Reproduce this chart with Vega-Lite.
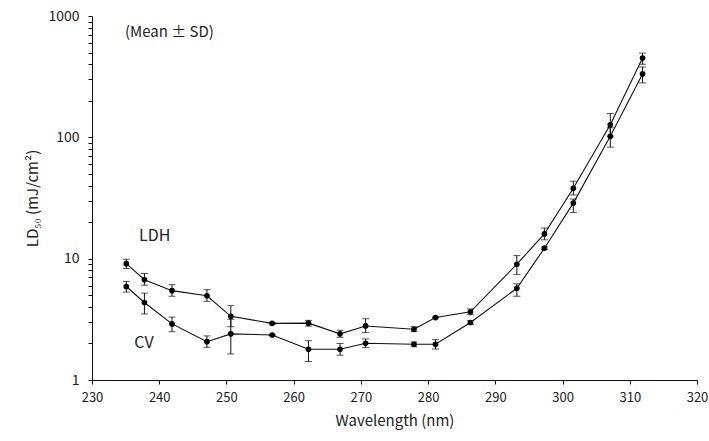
{
  "$schema": "https://vega.github.io/schema/vega-lite/v6.json",
  "autosize": {"type": "none"},
  "width": 605,
  "height": 364,
  "padding": {"left": 92, "top": 16, "right": 12, "bottom": 61},
  "background": "white",
  "config": {
    "view": {"stroke": null},
    "font": "Noto Sans CJK JP",
    "axis": {"domainColor": "#111", "tickColor": "#111", "labelColor": "#222", "titleColor": "#222", "grid": false, "labelFlush": false, "labelFont": "Noto Sans CJK JP", "titleFont": "Noto Sans CJK JP", "titleFontWeight": "normal"}
  },
  "datasets": {
    "pts": [
      {"series": "LDH", "wl": 235.1, "mean": 9.1, "lo": 8.3, "hi": 9.9},
      {"series": "LDH", "wl": 237.8, "mean": 6.7, "lo": 6.05, "hi": 7.55},
      {"series": "LDH", "wl": 241.9, "mean": 5.45, "lo": 4.9, "hi": 6.1},
      {"series": "LDH", "wl": 247.1, "mean": 4.95, "lo": 4.45, "hi": 5.55},
      {"series": "LDH", "wl": 250.65, "mean": 3.35, "lo": 2.75, "hi": 4.1},
      {"series": "LDH", "wl": 256.8, "mean": 2.93, "lo": 2.88, "hi": 2.98},
      {"series": "LDH", "wl": 262.2, "mean": 2.94, "lo": 2.78, "hi": 3.1},
      {"series": "LDH", "wl": 266.9, "mean": 2.4, "lo": 2.25, "hi": 2.57},
      {"series": "LDH", "wl": 270.7, "mean": 2.79, "lo": 2.46, "hi": 3.2},
      {"series": "LDH", "wl": 277.9, "mean": 2.62, "lo": 2.5, "hi": 2.75},
      {"series": "LDH", "wl": 281.1, "mean": 3.27, "lo": 3.25, "hi": 3.29},
      {"series": "LDH", "wl": 286.3, "mean": 3.65, "lo": 3.45, "hi": 3.85},
      {"series": "LDH", "wl": 293.2, "mean": 9.0, "lo": 7.4, "hi": 10.6},
      {"series": "LDH", "wl": 297.3, "mean": 16.0, "lo": 14.3, "hi": 17.9},
      {"series": "LDH", "wl": 301.6, "mean": 38, "lo": 33.5, "hi": 43.5},
      {"series": "LDH", "wl": 307.1, "mean": 127, "lo": 102, "hi": 157},
      {"series": "LDH", "wl": 311.9, "mean": 451, "lo": 400, "hi": 495},
      {"series": "CV", "wl": 235.1, "mean": 5.9, "lo": 5.3, "hi": 6.5},
      {"series": "CV", "wl": 237.8, "mean": 4.35, "lo": 3.5, "hi": 5.2},
      {"series": "CV", "wl": 241.9, "mean": 2.9, "lo": 2.5, "hi": 3.3},
      {"series": "CV", "wl": 247.1, "mean": 2.07, "lo": 1.86, "hi": 2.31},
      {"series": "CV", "wl": 250.65, "mean": 2.4, "lo": 1.64, "hi": 3.16},
      {"series": "CV", "wl": 256.8, "mean": 2.35, "lo": 2.32, "hi": 2.38},
      {"series": "CV", "wl": 262.2, "mean": 1.79, "lo": 1.42, "hi": 2.11},
      {"series": "CV", "wl": 266.9, "mean": 1.79, "lo": 1.6, "hi": 2.0},
      {"series": "CV", "wl": 270.7, "mean": 2.01, "lo": 1.85, "hi": 2.18},
      {"series": "CV", "wl": 277.9, "mean": 1.97, "lo": 1.88, "hi": 2.06},
      {"series": "CV", "wl": 281.1, "mean": 1.97, "lo": 1.8, "hi": 2.15},
      {"series": "CV", "wl": 286.3, "mean": 2.98, "lo": 2.88, "hi": 3.08},
      {"series": "CV", "wl": 293.2, "mean": 5.7, "lo": 4.9, "hi": 6.2},
      {"series": "CV", "wl": 297.3, "mean": 12.2, "lo": 11.9, "hi": 12.5},
      {"series": "CV", "wl": 301.6, "mean": 28.7, "lo": 24, "hi": 31},
      {"series": "CV", "wl": 307.1, "mean": 102, "lo": 83, "hi": 120},
      {"series": "CV", "wl": 311.9, "mean": 333, "lo": 281, "hi": 380}
    ],
    "labels": [
      {"text": "LDH", "wl": 237.0, "mean": 15.4, "size": 16},
      {"text": "CV", "wl": 236.3, "mean": 2.02, "size": 16},
      {"text": "(Mean ± SD)", "wl": 234.9, "mean": 743, "size": 15}
    ]
  },
  "layer": [
    {
      "data": {"name": "pts"},
      "mark": {"type": "line", "color": "#111", "strokeWidth": 1.1},
      "encoding": {
        "x": {"field": "wl", "type": "quantitative", "title": "Wavelength (nm)", "scale": {"domain": [230, 320], "nice": false, "zero": false},
          "axis": {"values": [230, 240, 250, 260, 270, 280, 290, 300, 310, 320], "tickSize": 4, "labelPadding": 7, "labelFontSize": 13, "titleFontSize": 15, "titlePadding": 9}},
        "y": {"field": "mean", "type": "quantitative", "title": "LD₅₀ (mJ/cm²)", "scale": {"type": "log", "domain": [1, 1000], "nice": false},
          "axis": {"values": [1,2,3,4,5,6,7,8,9,10,20,30,40,50,60,70,80,90,100,200,300,400,500,600,700,800,900,1000],
            "labelExpr": "indexof([1,10,100,1000], datum.value) >= 0 ? datum.label : ''", "format": "d",
            "tickSize": 4, "labelPadding": 9, "labelFontSize": 14, "titleFontSize": 15, "titlePadding": 7}},
        "detail": {"field": "series"}
      }
    },
    {
      "data": {"name": "pts"},
      "mark": {"type": "errorbar", "ticks": {"size": 7, "color": "#111"}, "rule": {"color": "#111", "strokeWidth": 1}},
      "encoding": {
        "x": {"field": "wl", "type": "quantitative", "title": "Wavelength (nm)"},
        "y": {"field": "lo", "type": "quantitative", "title": "LD₅₀ (mJ/cm²)"},
        "y2": {"field": "hi"}
      }
    },
    {
      "data": {"name": "pts"},
      "mark": {"type": "point", "filled": true, "color": "#000", "size": 32, "opacity": 1},
      "encoding": {
        "x": {"field": "wl", "type": "quantitative", "title": "Wavelength (nm)"},
        "y": {"field": "mean", "type": "quantitative", "title": "LD₅₀ (mJ/cm²)"}
      }
    },
    {
      "data": {"name": "labels"},
      "mark": {"type": "text", "align": "left", "baseline": "middle", "color": "#222", "font": "Noto Sans CJK JP"},
      "encoding": {
        "x": {"field": "wl", "type": "quantitative", "title": "Wavelength (nm)"},
        "y": {"field": "mean", "type": "quantitative", "title": "LD₅₀ (mJ/cm²)"},
        "text": {"field": "text"},
        "size": {"field": "size", "type": "quantitative", "scale": null}
      }
    }
  ]
}
